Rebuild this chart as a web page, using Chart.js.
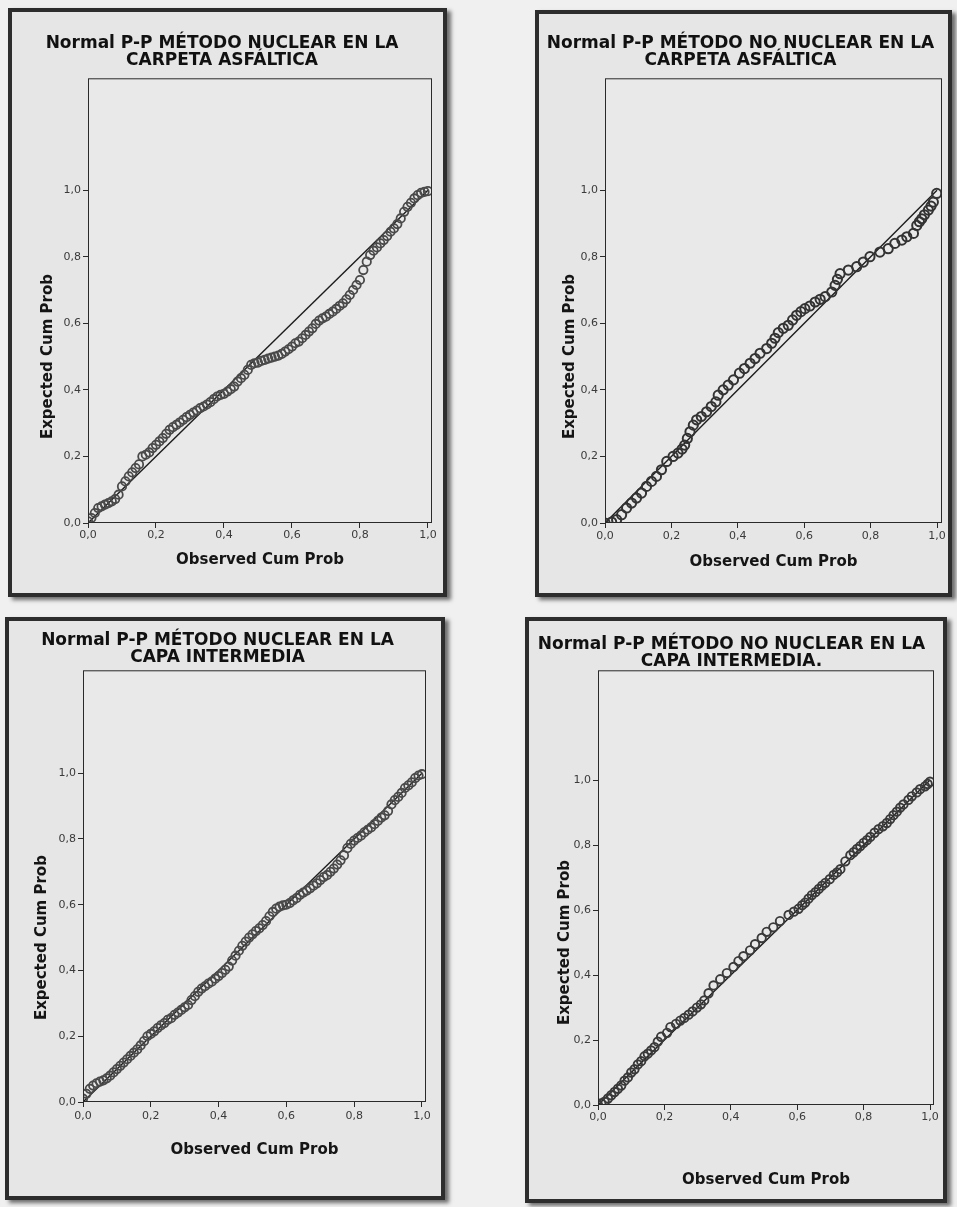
<!DOCTYPE html>
<html>
<head>
<meta charset="utf-8">
<script src="https://cdn.jsdelivr.net/npm/chart.js@4.4.1/dist/chart.umd.min.js"></script>
<style>
  html, body { margin: 0; padding: 0; background: #f0f0f0; }
  body { width: 957px; height: 1207px; position: relative; overflow: hidden; }
  .frame {
    position: absolute;
    border: 4px solid #2d2d2d;
    background: #e6e6e6;
    box-shadow: 4px 3px 4px rgba(0, 0, 0, 0.55);
    overflow: hidden;
  }
  .frame canvas { position: absolute; left: 0; top: 0; }
</style>
</head>
<body>
<div class="frame" id="f1"><canvas id="c1"></canvas></div>
<div class="frame" id="f2"><canvas id="c2"></canvas></div>
<div class="frame" id="f3"><canvas id="c3"></canvas></div>
<div class="frame" id="f4"><canvas id="c4"></canvas></div>

<script>
// --- chart texts ---
const titleNucCarpeta = ['Normal P-P MÉTODO NUCLEAR EN LA', 'CARPETA ASFÁLTICA'];
const titleNoNucCarpeta = ['Normal P-P MÉTODO NO NUCLEAR EN LA', 'CARPETA ASFÁLTICA'];
const titleNucCapa = ['Normal P-P MÉTODO NUCLEAR EN LA', 'CAPA INTERMEDIA'];
const titleNoNucCapa = ['Normal P-P MÉTODO NO NUCLEAR EN LA', 'CAPA INTERMEDIA.'];
const xAxisTitle = 'Observed Cum Prob';
const yAxisTitle = 'Expected Cum Prob';

// --- ticks (same on both axes) ---
const tickValues = [0, 0.2, 0.4, 0.6, 0.8, 1.0];
const tickLabels = ['0,0', '0,2', '0,4', '0,6', '0,8', '1,0'];

// --- diagonal reference line ---
const refObs = [0, 1];
const refExp = [0, 1];

// --- nuclear, carpeta asfáltica ---
const nucCarpetaObs = [
  0.00, 0.01, 0.02, 0.03, 0.04, 0.05, 0.06, 0.07, 0.08, 0.09,
  0.10, 0.11, 0.12, 0.13, 0.14, 0.15, 0.16, 0.17, 0.18, 0.19,
  0.20, 0.21, 0.22, 0.23, 0.24, 0.25, 0.26, 0.27, 0.28, 0.29,
  0.30, 0.31, 0.32, 0.33, 0.34, 0.35, 0.36, 0.37, 0.38, 0.39,
  0.40, 0.41, 0.42, 0.43, 0.44, 0.45, 0.46, 0.47, 0.48, 0.49,
  0.50, 0.51, 0.52, 0.53, 0.54, 0.55, 0.56, 0.57, 0.58, 0.59,
  0.60, 0.61, 0.62, 0.63, 0.64, 0.65, 0.66, 0.67, 0.68, 0.69,
  0.70, 0.71, 0.72, 0.73, 0.74, 0.75, 0.76, 0.77, 0.78, 0.79,
  0.80, 0.81, 0.82, 0.83, 0.84, 0.85, 0.86, 0.87, 0.88, 0.89,
  0.90, 0.91, 0.92, 0.93, 0.94, 0.95, 0.96, 0.97, 0.98, 0.99,
  1.00
];
const nucCarpetaExp = [
  0.005, 0.015, 0.030, 0.045, 0.050, 0.055, 0.060, 0.065, 0.072, 0.085,
  0.110, 0.125, 0.140, 0.152, 0.165, 0.176, 0.200, 0.205, 0.212, 0.225,
  0.235, 0.245, 0.255, 0.268, 0.280, 0.288, 0.295, 0.302, 0.310, 0.318,
  0.325, 0.332, 0.338, 0.345, 0.350, 0.356, 0.363, 0.372, 0.380, 0.385,
  0.388, 0.395, 0.402, 0.410, 0.425, 0.435, 0.445, 0.460, 0.475, 0.480,
  0.482, 0.487, 0.490, 0.494, 0.497, 0.500, 0.503, 0.508, 0.515, 0.522,
  0.530, 0.540, 0.545, 0.555, 0.565, 0.575, 0.585, 0.598, 0.608, 0.615,
  0.620, 0.628, 0.635, 0.643, 0.652, 0.660, 0.672, 0.685, 0.700, 0.715,
  0.730, 0.760, 0.785, 0.805, 0.818, 0.828, 0.840, 0.850, 0.862, 0.875,
  0.885, 0.898, 0.915, 0.935, 0.950, 0.962, 0.975, 0.985, 0.992, 0.995,
  0.997
];

// --- no nuclear, carpeta asfáltica ---
const noNucCarpetaObs = [
  0.000, 0.020, 0.035, 0.050, 0.065, 0.080, 0.095, 0.110, 0.125, 0.140,
  0.155, 0.170, 0.186, 0.205, 0.220, 0.232, 0.240, 0.248, 0.256, 0.266,
  0.276, 0.290, 0.306, 0.320, 0.334, 0.341, 0.356, 0.371, 0.387, 0.405,
  0.420, 0.437, 0.452, 0.467, 0.487, 0.502, 0.512, 0.522, 0.537, 0.552,
  0.565, 0.577, 0.590, 0.602, 0.617, 0.633, 0.648, 0.663, 0.683, 0.693,
  0.700, 0.708, 0.733, 0.758, 0.778, 0.798, 0.828, 0.853, 0.873, 0.894,
  0.909, 0.929, 0.939, 0.947, 0.954, 0.962, 0.974, 0.982, 0.989, 0.999
];
const noNucCarpetaExp = [
  0.000, 0.003, 0.010, 0.025, 0.045, 0.060, 0.075, 0.090, 0.110, 0.125,
  0.140, 0.160, 0.185, 0.200, 0.210, 0.222, 0.234, 0.254, 0.274, 0.294,
  0.310, 0.320, 0.334, 0.350, 0.364, 0.384, 0.400, 0.414, 0.430, 0.450,
  0.464, 0.480, 0.494, 0.510, 0.524, 0.540, 0.555, 0.572, 0.585, 0.594,
  0.610, 0.624, 0.635, 0.644, 0.652, 0.664, 0.672, 0.680, 0.694, 0.714,
  0.732, 0.749, 0.760, 0.770, 0.784, 0.800, 0.814, 0.824, 0.840, 0.850,
  0.860, 0.870, 0.894, 0.905, 0.914, 0.926, 0.940, 0.952, 0.964, 0.990
];

// --- nuclear, capa intermedia ---
const nucCapaObs = [
  0.00, 0.01, 0.02, 0.03, 0.04, 0.05, 0.06, 0.07, 0.08, 0.09,
  0.10, 0.11, 0.12, 0.13, 0.14, 0.15, 0.16, 0.17, 0.18, 0.19,
  0.20, 0.21, 0.22, 0.23, 0.24, 0.25, 0.26, 0.27, 0.28, 0.29,
  0.30, 0.31, 0.32, 0.33, 0.34, 0.35, 0.36, 0.37, 0.38, 0.39,
  0.40, 0.41, 0.42, 0.43, 0.44, 0.45, 0.46, 0.47, 0.48, 0.49,
  0.50, 0.51, 0.52, 0.53, 0.54, 0.55, 0.56, 0.57, 0.58, 0.59,
  0.60, 0.61, 0.62, 0.63, 0.64, 0.65, 0.66, 0.67, 0.68, 0.69,
  0.70, 0.71, 0.72, 0.73, 0.74, 0.75, 0.76, 0.77, 0.78, 0.79,
  0.80, 0.81, 0.82, 0.83, 0.84, 0.85, 0.86, 0.87, 0.88, 0.89,
  0.90, 0.91, 0.92, 0.93, 0.94, 0.95, 0.96, 0.97, 0.98, 0.99,
  1.00
];
const nucCapaExp = [
  0.010, 0.025, 0.040, 0.050, 0.057, 0.062, 0.066, 0.072, 0.080, 0.090,
  0.100, 0.110, 0.120, 0.130, 0.140, 0.150, 0.160, 0.172, 0.185, 0.200,
  0.207, 0.215, 0.225, 0.233, 0.240, 0.250, 0.255, 0.265, 0.272, 0.280,
  0.288, 0.295, 0.310, 0.322, 0.335, 0.345, 0.352, 0.360, 0.366, 0.375,
  0.383, 0.392, 0.402, 0.412, 0.430, 0.445, 0.460, 0.475, 0.488, 0.500,
  0.510, 0.520, 0.528, 0.538, 0.550, 0.565, 0.578, 0.588, 0.594, 0.598,
  0.600, 0.605, 0.613, 0.620, 0.630, 0.637, 0.643, 0.650, 0.658, 0.665,
  0.675, 0.684, 0.690, 0.700, 0.710, 0.722, 0.735, 0.750, 0.772, 0.785,
  0.795, 0.803, 0.810, 0.820, 0.828, 0.835, 0.845, 0.855, 0.865, 0.872,
  0.885, 0.905, 0.918, 0.928, 0.940, 0.955, 0.963, 0.972, 0.985, 0.993,
  0.997
];

// --- no nuclear, capa intermedia ---
const noNucCapaObs = [
  0.00, 0.01, 0.02, 0.03, 0.04, 0.05, 0.06, 0.07, 0.08, 0.09,
  0.10, 0.11, 0.12, 0.13, 0.14, 0.15, 0.16, 0.17, 0.18, 0.19,
  0.208, 0.218, 0.235, 0.248, 0.260, 0.273, 0.285, 0.298, 0.310, 0.320,
  0.333, 0.348, 0.368, 0.388, 0.408, 0.423, 0.438, 0.458, 0.473, 0.493,
  0.508, 0.528, 0.548, 0.574, 0.590, 0.604, 0.615, 0.624, 0.634, 0.644,
  0.655, 0.665, 0.675, 0.685, 0.698, 0.710, 0.720, 0.730, 0.745, 0.760,
  0.770, 0.780, 0.790, 0.800, 0.810, 0.820, 0.833, 0.845, 0.858, 0.870,
  0.880, 0.890, 0.900, 0.910, 0.920, 0.935, 0.945, 0.960, 0.970, 0.985,
  0.993, 1.000
];
const noNucCapaExp = [
  0.000, 0.005, 0.010, 0.020, 0.030, 0.040, 0.050, 0.060, 0.075, 0.085,
  0.100, 0.110, 0.125, 0.135, 0.150, 0.158, 0.168, 0.178, 0.195, 0.210,
  0.222, 0.240, 0.250, 0.260, 0.268, 0.278, 0.288, 0.300, 0.310, 0.322,
  0.344, 0.368, 0.387, 0.406, 0.425, 0.443, 0.458, 0.476, 0.495, 0.514,
  0.533, 0.547, 0.566, 0.585, 0.595, 0.604, 0.615, 0.623, 0.635, 0.646,
  0.655, 0.665, 0.675, 0.684, 0.695, 0.708, 0.716, 0.726, 0.750, 0.769,
  0.778, 0.788, 0.797, 0.807, 0.815, 0.825, 0.838, 0.849, 0.858, 0.868,
  0.880, 0.892, 0.903, 0.915, 0.925, 0.939, 0.950, 0.962, 0.972, 0.981,
  0.988, 0.995
];

const FONT = "'DejaVu Sans', 'Liberation Sans', sans-serif";

// layout of the four framed charts (page pixels)
const panels = [
  { frame: 'f1', canvas: 'c1', left: 8, top: 8, w: 431, h: 581, cw: 431,
    title: titleNucCarpeta, obs: nucCarpetaObs, exp: nucCarpetaExp,
    r: 4.2, bw: 1.8, pc: '#4a4a4a', ymax: 1.336, xmax: 1.012,
    yW: 76, yTitleX: 36, padR: 11, tTop: 24, tBottom: 10, xH: 70, xTickPad: 1, xTitleBottom: 24 },
  { frame: 'f2', canvas: 'c2', left: 535, top: 10, w: 409, h: 579, cw: 413,
    title: titleNoNucCarpeta, obs: noNucCarpetaObs, exp: noNucCarpetaExp,
    r: 4.6, bw: 2, pc: '#333333', ymax: 1.336, xmax: 1.015,
    yW: 66, yTitleX: 31, padR: 10, tTop: 22, tBottom: 10, xH: 70, xTickPad: 2, xTitleBottom: 22 },
  { frame: 'f3', canvas: 'c3', left: 5, top: 617, w: 432, h: 575, cw: 432,
    title: titleNucCapa, obs: nucCapaObs, exp: nucCapaExp,
    r: 4.2, bw: 1.8, pc: '#4a4a4a', ymax: 1.313, xmax: 1.012,
    yW: 74, yTitleX: 33, padR: 15, tTop: 12, tBottom: 5, xH: 94, xTickPad: 3, xTitleBottom: 37 },
  { frame: 'f4', canvas: 'c4', left: 525, top: 617, w: 414, h: 578, cw: 415,
    title: titleNoNucCapa, obs: noNucCapaObs, exp: noNucCapaExp,
    r: 4.2, bw: 1.9, pc: '#3a3a3a', ymax: 1.338, xmax: 1.012,
    yW: 69, yTitleX: 36, padR: 10, tTop: 16, tBottom: 1, xH: 94, xTickPad: 1, xTitleBottom: 10 }
];

// fills the plot area, draws its box and the y title centred on 0..1
const plotBox = {
  id: 'plotBox',
  beforeDraw(chart) {
    const { ctx, chartArea: a } = chart;
    ctx.save();
    ctx.fillStyle = '#e9e9e9';
    ctx.fillRect(a.left, a.top, a.right - a.left, a.bottom - a.top);
    ctx.restore();
  },
  afterDraw(chart, args, opts) {
    const { ctx, chartArea: a } = chart;
    ctx.save();
    ctx.strokeStyle = '#2a2a2a';
    ctx.lineWidth = 1;
    ctx.strokeRect(a.left + 0.5, a.top + 0.5, a.right - a.left - 1, a.bottom - a.top - 1);

    const ys = chart.scales.y;
    ctx.translate(opts.x, ys.getPixelForValue(0.5));
    ctx.rotate(-Math.PI / 2);
    ctx.font = 'bold 15px ' + FONT;
    ctx.fillStyle = '#151515';
    ctx.textAlign = 'center';
    ctx.textBaseline = 'middle';
    ctx.fillText(opts.text, 0, 0);
    ctx.restore();
  }
};

function toPoints(xs, ys) {
  const n = Math.min(xs.length, ys.length);
  const pts = [];
  for (let i = 0; i < n; i++) pts.push({ x: xs[i], y: ys[i] });
  return pts;
}

const fixedTicks = scale => { scale.ticks = tickValues.map(v => ({ value: v })); };

panels.forEach(p => {
  const frame = document.getElementById(p.frame);
  frame.style.left = p.left + 'px';
  frame.style.top = p.top + 'px';
  frame.style.width = p.w + 'px';
  frame.style.height = p.h + 'px';

  const canvas = document.getElementById(p.canvas);
  canvas.width = p.cw;
  canvas.height = p.h;
  canvas.style.width = p.cw + 'px';
  canvas.style.height = p.h + 'px';

  const tickFont = { family: FONT, size: 11 };
  const gridOpts = { drawOnChartArea: false, drawTicks: true, tickLength: 5, color: '#2a2a2a', lineWidth: 1 };

  new Chart(canvas.getContext('2d'), {
    type: 'scatter',
    data: {
      datasets: [
        {
          data: toPoints(p.obs, p.exp),
          pointStyle: 'circle',
          pointRadius: p.r,
          pointBorderWidth: p.bw,
          pointBorderColor: p.pc,
          pointBackgroundColor: 'rgba(0,0,0,0)',
          order: 0
        },
        {
          data: toPoints(refObs, refExp),
          showLine: true,
          borderColor: '#1c1c1c',
          borderWidth: 1.4,
          pointRadius: 0,
          order: 1
        }
      ]
    },
    options: {
      responsive: false,
      animation: false,
      devicePixelRatio: 1,
      layout: { padding: { left: 0, right: p.padR, top: 0, bottom: 0 } },
      scales: {
        x: {
          type: 'linear',
          min: 0,
          max: p.xmax,
          afterBuildTicks: fixedTicks,
          afterFit: s => { s.height = p.xH; },
          border: { display: false },
          grid: gridOpts,
          ticks: {
            callback: (v, i) => tickLabels[i],
            font: tickFont, color: '#3a3a3a', padding: p.xTickPad,
            maxRotation: 0, autoSkip: false
          },
          title: {
            display: true, text: xAxisTitle, color: '#151515',
            font: { family: FONT, size: 15, weight: 'bold', lineHeight: 1.2 },
            padding: { top: 0, bottom: p.xTitleBottom }
          }
        },
        y: {
          type: 'linear',
          min: 0,
          max: p.ymax,
          afterBuildTicks: fixedTicks,
          afterFit: s => { s.width = p.yW; },
          border: { display: false },
          grid: gridOpts,
          ticks: {
            callback: (v, i) => tickLabels[i],
            font: tickFont, color: '#3a3a3a', padding: 2, autoSkip: false
          }
        }
      },
      plugins: {
        legend: { display: false },
        tooltip: { enabled: false },
        title: {
          display: true, text: p.title, color: '#111',
          font: { family: FONT, size: 17, weight: 'bold', lineHeight: 0.95 },
          padding: { top: p.tTop, bottom: p.tBottom }
        },
        plotBox: { text: yAxisTitle, x: p.yTitleX }
      }
    },
    plugins: [plotBox]
  });
});
</script>
</body>
</html>
